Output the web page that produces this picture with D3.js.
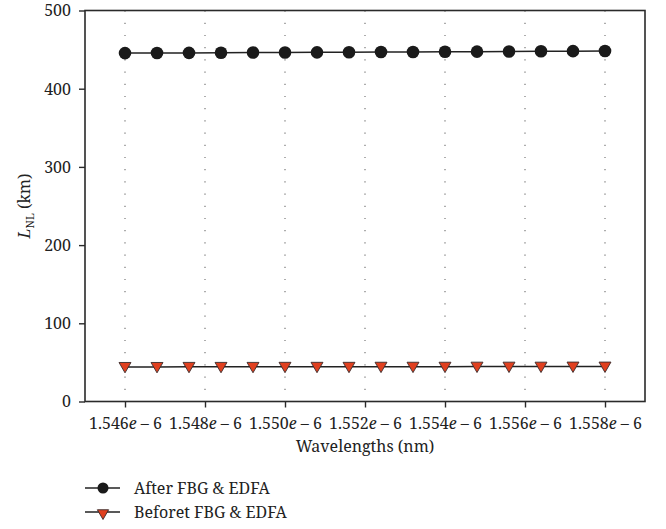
<!DOCTYPE html>
<html>
<head>
<meta charset="utf-8">
<script src="https://cdn.jsdelivr.net/npm/d3@7/dist/d3.min.js"></script>
<style>
  html, body { margin: 0; padding: 0; background: #fff; }
</style>
</head>
<body>
<svg id="chart" width="666" height="529"></svg>
<script>
// Wavelength samples (in units of 1e-6 nm as labelled on the axis)
const wavelengths = [1.5460, 1.5468, 1.5476, 1.5484, 1.5492, 1.5500, 1.5508, 1.5516,
                     1.5524, 1.5532, 1.5540, 1.5548, 1.5556, 1.5564, 1.5572, 1.5580];
// Nonlinear length L_NL (km)
const afterFBG  = [445.5, 445.6, 445.8, 446.0, 446.2, 446.3, 446.5, 446.7,
                   446.9, 447.0, 447.2, 447.4, 447.6, 447.8, 448.0, 448.3];
const beforeFBG = [44.2, 44.2, 44.3, 44.3, 44.3, 44.4, 44.4, 44.4,
                   44.5, 44.5, 44.5, 44.6, 44.6, 44.6, 44.7, 44.7];
const xTicks = [1.546, 1.548, 1.550, 1.552, 1.554, 1.556, 1.558];
const yTicks = [0, 100, 200, 300, 400, 500];
const seriesNames = ["After FBG & EDFA", "Beforet FBG & EDFA"];

const FONT = '"Noto Serif"';
const svg = d3.select("#chart");
const margin = { left: 85, top: 10.5, right: 645, bottom: 401.5 };

const x = d3.scaleLinear().domain([1.545, 1.559]).range([margin.left, margin.right]);
const y = d3.scaleLinear().domain([0, 500]).range([margin.bottom, margin.top]);

// Vertical dotted grid lines at each labelled wavelength
svg.append("g").selectAll("line").data(xTicks).join("line")
  .attr("x1", d => x(d)).attr("x2", d => x(d))
  .attr("y1", margin.top).attr("y2", margin.bottom)
  .attr("stroke", "#777").attr("stroke-width", 1.2)
  .attr("stroke-dasharray", "1.2,11");

// Frame
svg.append("rect")
  .attr("x", margin.left).attr("y", margin.top)
  .attr("width", margin.right - margin.left).attr("height", margin.bottom - margin.top)
  .attr("fill", "none").attr("stroke", "#2a2a2a").attr("stroke-width", 1.6);

// Axes
const xAxis = svg.append("g")
  .attr("transform", `translate(0,${margin.bottom})`)
  .call(d3.axisBottom(x).tickValues(xTicks).tickSize(6).tickSizeOuter(0).tickFormat(""));
xAxis.attr("font-family", null).attr("font-size", null);
xAxis.select(".domain").remove();
xAxis.selectAll(".tick line").attr("stroke", "#2a2a2a").attr("stroke-width", 1.4);
xAxis.selectAll(".tick").each(function(d) {
  const t = d3.select(this).append("text")
    .attr("y", 27).attr("text-anchor", "middle")
    .style("font-size", "16px").style("font-family", FONT).attr("fill", "#222");
  t.append("tspan").text(d3.format(".3f")(d));
  t.append("tspan").attr("font-style", "italic").text("e");
  t.append("tspan").text(" \u2013 6");
});

const yAxis = svg.append("g")
  .attr("transform", `translate(${margin.left},0)`)
  .call(d3.axisLeft(y).tickValues(yTicks).tickSize(6).tickSizeOuter(0));
yAxis.attr("font-family", null).attr("font-size", null);
yAxis.select(".domain").remove();
yAxis.selectAll(".tick line").attr("stroke", "#2a2a2a").attr("stroke-width", 1.4);
yAxis.selectAll(".tick text")
  .attr("x", -14).attr("dy", "0.34em")
  .style("font-size", "16px").style("font-family", FONT).attr("fill", "#222");

// Axis titles
svg.append("text")
  .attr("x", x(1.552)).attr("y", 452)
  .attr("text-anchor", "middle").style("font-size", "16px").style("font-family", FONT)
  .attr("fill", "#222")
  .text("Wavelengths (nm)");

const yt = svg.append("text")
  .attr("transform", `translate(30,${(margin.top + margin.bottom) / 2}) rotate(-90)`)
  .attr("text-anchor", "middle").style("font-size", "16px").style("font-family", FONT)
  .attr("fill", "#222");
yt.append("tspan").attr("font-style", "italic").text("L");
yt.append("tspan").attr("dy", 4).style("font-size", "11px").text("NL");
yt.append("tspan").attr("dy", -4).text(" (km)");

// Series
const line = d3.line().x((d, i) => x(wavelengths[i])).y(d => y(d));
const triangle = d3.symbol().type(d3.symbolTriangle).size(62);

svg.append("path").datum(afterFBG).attr("d", line)
  .attr("fill", "none").attr("stroke", "#222").attr("stroke-width", 1.5);
svg.append("path").datum(beforeFBG).attr("d", line)
  .attr("fill", "none").attr("stroke", "#222").attr("stroke-width", 1.5);

svg.append("g").selectAll("circle").data(afterFBG).join("circle")
  .attr("cx", (d, i) => x(wavelengths[i])).attr("cy", d => y(d))
  .attr("r", 6.3).attr("fill", "#1a1a1a");

svg.append("g").selectAll("path").data(beforeFBG).join("path")
  .attr("d", triangle)
  .attr("transform", (d, i) => `translate(${x(wavelengths[i])},${y(d) - 1}) rotate(180)`)
  .attr("fill", "#e0401f").attr("stroke", "#3a2a2a").attr("stroke-width", 0.9);

// Legend
const legend = svg.append("g");
const legendRows = [
  { name: seriesNames[0], y: 488, marker: "circle" },
  { name: seriesNames[1], y: 512, marker: "triangle" }
];
legendRows.forEach(r => {
  legend.append("line").attr("x1", 85).attr("x2", 120).attr("y1", r.y).attr("y2", r.y)
    .attr("stroke", "#222").attr("stroke-width", 1.5);
  if (r.marker === "circle") {
    legend.append("circle").attr("cx", 103).attr("cy", r.y).attr("r", 5.5).attr("fill", "#1a1a1a");
  } else {
    legend.append("path").attr("d", d3.symbol().type(d3.symbolTriangle).size(55))
      .attr("transform", `translate(103,${r.y + 1}) rotate(180)`)
      .attr("fill", "#e0401f").attr("stroke", "#3a2a2a").attr("stroke-width", 0.9);
  }
  legend.append("text").attr("x", 134).attr("y", r.y).attr("dy", "0.35em")
    .style("font-size", "16px").style("font-family", FONT).attr("fill", "#222").text(r.name);
});
</script>
</body>
</html>
